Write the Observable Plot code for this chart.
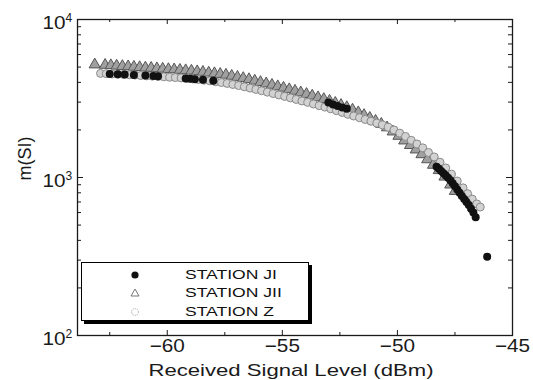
<!DOCTYPE html>
<html>
<head>
<meta charset="utf-8">
<script src="https://cdn.jsdelivr.net/npm/d3@7"></script>
<script src="https://cdn.jsdelivr.net/npm/@observablehq/plot@0.6"></script>
<style>
  html, body { margin: 0; padding: 0; background: #fff; overflow: hidden; }
  #wrap { position: relative; width: 533px; height: 380px; font-family: 'Liberation Sans', Arial, sans-serif; }
  #chart svg { display: block; }
  #legend { position: absolute; left: 81px; top: 262px; width: 226px; height: 57px; border: 1px solid #000; box-shadow: 3px 3px 0 #000; background: #fff; }
  .row { position: absolute; left: 0; height: 14px; width: 226px; }
  .row svg { position: absolute; left: 46px; top: 0; }
  .row span { position: absolute; left: 103px; top: -1px; font-size: 13.5px; line-height: 16px; transform: scaleX(1.3); transform-origin: left center; white-space: nowrap; color: #111; }
</style>
</head>
<body>
<div id="wrap"><div id="chart"></div><div id="legend"></div></div>
<script>
// ---- data ----
const seriesNames = ["STATION JI", "STATION JII", "STATION Z"];

// STATION JI (filled black circles)
const jiLevel = [-62.5, -62.15, -61.85, -61.45, -60.95, -60.6, -60.4, -59.2, -59.0, -58.8, -58.45, -58.0,
  -53.0, -52.8, -52.6, -52.4, -52.2,
  -48.3, -48.2, -48.1, -48.0, -47.9, -47.8, -47.7, -47.6, -47.5, -47.4, -47.3, -47.2, -47.1, -47.0,
  -46.9, -46.8, -46.7, -46.6, -46.1];
const jiM = [4520, 4500, 4490, 4450, 4420, 4390, 4370, 4230, 4210, 4190, 4150, 4100,
  2980, 2900, 2830, 2770, 2720,
  1170, 1135, 1100, 1065, 1030, 995, 960, 920, 880, 840, 800, 765, 730, 700,
  670, 635, 600, 560, 315];

// STATION JII (triangles)
const jiiLevel = [-63.15, -62.7, -62.45, -62.2, -61.95, -61.7, -61.45, -61.2, -60.95, -60.7, -60.45, -60.2,
  -59.95, -59.7, -59.45, -59.2, -58.95, -58.7, -58.45, -58.2, -57.95, -57.7, -57.45, -57.2,
  -56.95, -56.7, -56.45, -56.2, -55.95, -55.7, -55.45, -55.2, -54.95, -54.7, -54.45, -54.2,
  -53.95, -53.7, -53.45, -53.2, -52.95, -52.7, -52.45, -52.2, -51.95, -51.7, -51.45, -51.2,
  -50.95, -50.7, -50.45, -50.2, -49.95, -49.7, -49.45, -49.2, -48.95, -48.7, -48.45, -48.2,
  -47.95, -47.7, -47.5];
const jiiM = [5180, 5150, 5120, 5090, 5060, 5040, 5010, 4980, 4950, 4930, 4900, 4870,
  4840, 4820, 4790, 4760, 4730, 4690, 4650, 4600, 4560, 4510, 4460, 4390,
  4320, 4250, 4180, 4090, 4010, 3930, 3850, 3770, 3690, 3610, 3530, 3450,
  3370, 3290, 3210, 3130, 3050, 2960, 2870, 2780, 2680, 2580, 2480, 2380,
  2280, 2180, 2070, 1950, 1830, 1710, 1600, 1500, 1400, 1300, 1200, 1110,
  1010, 900, 820];

// STATION Z (open circles)
const zLevel = [-62.9, -62.65, -62.4, -62.15, -61.9, -61.65, -61.4, -61.15, -60.9, -60.65, -60.4, -60.15,
  -59.9, -59.65, -59.4, -59.15, -58.9, -58.65, -58.4, -58.15, -57.9, -57.65, -57.4, -57.15,
  -56.9, -56.65, -56.4, -56.15, -55.9, -55.65, -55.4, -55.15, -54.9, -54.65, -54.4, -54.15,
  -53.9, -53.65, -53.4, -53.15, -52.9, -52.65, -52.4, -52.15, -51.9, -51.65, -51.4, -51.15,
  -50.9, -50.65, -50.4, -50.15, -49.9, -49.65, -49.4, -49.15, -48.9, -48.65, -48.4, -48.15,
  -47.9, -47.65, -47.4, -47.15, -46.95, -46.75, -46.55, -46.4];
const zM = [4560, 4540, 4520, 4500, 4490, 4470, 4450, 4420, 4400, 4380, 4360, 4340,
  4310, 4290, 4270, 4240, 4210, 4170, 4130, 4090, 4040, 3990, 3940, 3880,
  3820, 3750, 3680, 3610, 3540, 3470, 3400, 3330, 3260, 3190, 3120, 3050,
  2990, 2920, 2850, 2790, 2720, 2650, 2580, 2510, 2450, 2390, 2330, 2270,
  2210, 2150, 2080, 2000, 1910, 1820, 1720, 1630, 1540, 1440, 1350, 1250,
  1150, 1050, 950, 860, 790, 730, 680, 650];

const xTicks = [-60, -55, -50, -45];
const xMinorTicks = [-62.5, -57.5, -52.5, -47.5];
const yTicks = [100, 1000, 10000];
const yMinorTicks = [200, 300, 400, 500, 600, 700, 800, 900, 2000, 3000, 4000, 5000, 6000, 7000, 8000, 9000];
const xTitle = "Received Signal Level (dBm)";
const yTitle = "m(SI)";

// ---- build ----
const rows = (lv, mv) => lv.map((level, i) => ({level, m: mv[i]}));
const ji = rows(jiLevel, jiM), jii = rows(jiiLevel, jiiM), z = rows(zLevel, zM);

const W = 533, H = 380, mL = 77, mR = 21, mT = 19, mB = 45;
const pw = W - mL - mR, ph = H - mT - mB;
const ink = "#1a1a1a";

const chart = Plot.plot({
  width: W, height: H,
  marginLeft: mL, marginRight: mR, marginTop: mT, marginBottom: mB,
  x: {domain: [-63.9, -45], axis: null},
  y: {type: "log", domain: [100, 10000], axis: null},
  style: {fontFamily: "'Liberation Sans', Arial, sans-serif", background: "#fff", color: ink},
  marks: [
    // data
    Plot.dot(jii, {x: "level", y: "m", symbol: "triangle", r: 4.2, stroke: "#555", fill: "#a0a0a0", strokeWidth: 1}),
    Plot.dot(z, {x: "level", y: "m", symbol: "circle", r: 4, stroke: "#8a8a8a", fill: "#d2d2d2", strokeWidth: 1}),
    Plot.dot(ji, {x: "level", y: "m", symbol: "circle", r: 4, fill: "#111", stroke: "none"}),
    // frame and inward ticks
    Plot.frame({stroke: ink, strokeWidth: 1.3}),
    Plot.tickX(xTicks, {x: d => d, insetTop: ph - 5, stroke: ink}),
    Plot.tickX(xTicks, {x: d => d, insetBottom: ph - 5, stroke: ink}),
    Plot.tickX(xMinorTicks, {x: d => d, insetTop: ph - 3, stroke: ink}),
    Plot.tickX(xMinorTicks, {x: d => d, insetBottom: ph - 3, stroke: ink}),
    Plot.tickY(yTicks, {y: d => d, insetRight: pw - 6, stroke: ink}),
    Plot.tickY(yTicks, {y: d => d, insetLeft: pw - 6, stroke: ink}),
    Plot.tickY(yMinorTicks, {y: d => d, insetRight: pw - 4, stroke: ink}),
    Plot.tickY(yMinorTicks, {y: d => d, insetLeft: pw - 4, stroke: ink}),
    // tick labels
    Plot.text(xTicks, {x: d => d, text: d => "\u2212" + Math.abs(d), frameAnchor: "bottom", lineAnchor: "bottom", dy: 16, fontSize: 18, fill: ink}),
    Plot.text(yTicks, {y: d => d, text: () => "10", frameAnchor: "left", textAnchor: "end", lineAnchor: "bottom", dx: -12, dy: 9, fontSize: 18, fill: ink}),
    Plot.text(yTicks, {y: d => d, text: d => String(Math.round(Math.log10(d))), frameAnchor: "left", textAnchor: "start", lineAnchor: "bottom", dx: -12, dy: 2, fontSize: 12, fill: ink}),
    // titles
    Plot.text([xTitle], {text: d => d, frameAnchor: "bottom", lineAnchor: "bottom", dy: 40, dx: -4, fontSize: 17, fill: ink}),
    Plot.text([yTitle], {text: d => d, frameAnchor: "left", rotate: -90, dx: -52, dy: 3, fontSize: 18, fill: ink})
  ]
});
document.getElementById("chart").appendChild(chart);

// horizontal stretch of the text, as in the reference
chart.querySelectorAll("text").forEach(t => {
  const s = t.textContent;
  let target = null;
  if (s === xTitle) target = 285;
  else if (s.startsWith("\u2212") || s === "10") target = t.getComputedTextLength() * 1.15;
  if (target) { t.setAttribute("textLength", target); t.setAttribute("lengthAdjust", "spacingAndGlyphs"); }
});

// legend
const legend = document.getElementById("legend");
const symbols = [
  '<circle cx="7" cy="7" r="3.6" fill="#111"/>',
  '<path d="M7,3 L11,10 L3,10 Z" fill="none" stroke="#777" stroke-width="1"/>',
  '<circle cx="7" cy="7" r="3.4" fill="none" stroke="#aaa" stroke-width="1" stroke-dasharray="1.2,1"/>'
];
const rowTops = [5, 23, 42];
seriesNames.forEach((name, i) => {
  const row = document.createElement("div");
  row.className = "row";
  row.style.top = rowTops[i] + "px";
  row.innerHTML = '<svg width="14" height="14">' + symbols[i] + '</svg><span>' + name + '</span>';
  legend.appendChild(row);
});
</script>
</body>
</html>
